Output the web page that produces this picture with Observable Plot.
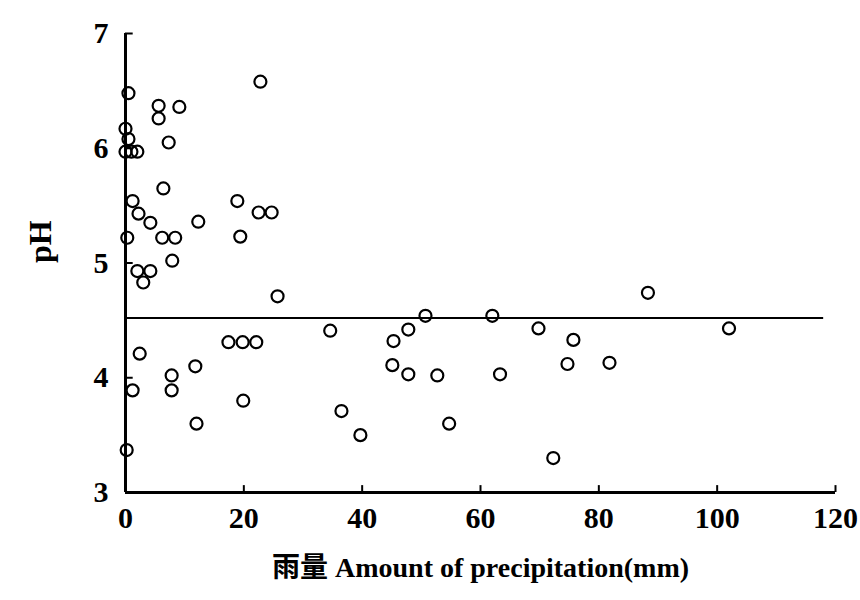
<!DOCTYPE html>
<html><head><meta charset="utf-8">
<script src="https://cdn.jsdelivr.net/npm/d3@7"></script>
<script src="https://cdn.jsdelivr.net/npm/@observablehq/plot@0.6"></script>
<style>body{margin:0;background:#fff;} svg{display:block;}</style>
</head><body><div id="chart"></div>
<script>
const precipitation = [22.8,0.5,5.6,5.6,9.1,0,0.5,7.3,0,1.0,2.0,6.4,1.2,2.2,4.2,6.2,8.4,0.3,18.9,22.5,24.7,12.3,19.4,7.9,2.0,4.2,3.0,25.7,17.4,19.8,22.1,2.4,11.8,7.8,7.8,1.2,19.9,12.0,0.2,34.6,50.7,62.0,47.8,45.3,45.1,47.8,52.7,63.3,69.8,75.7,74.7,36.5,39.7,54.7,72.3,88.3,102.0,81.8];
const pH = [6.58,6.48,6.37,6.26,6.36,6.17,6.08,6.05,5.97,5.97,5.97,5.65,5.54,5.43,5.35,5.22,5.22,5.22,5.54,5.44,5.44,5.36,5.23,5.02,4.93,4.93,4.83,4.71,4.31,4.31,4.31,4.21,4.10,4.02,3.89,3.89,3.80,3.60,3.37,4.41,4.54,4.54,4.42,4.32,4.11,4.03,4.02,4.03,4.43,4.33,4.12,3.71,3.50,3.60,3.30,4.74,4.43,4.13];
const xTicks = [0,20,40,60,80,100,120];
const yTicks = [3,4,5,6,7];
const thresholdPH = [4.52];
const thresholdExtent = [0,118];
const xLabel = "雨量 Amount of precipitation(mm)";
const yLabel = "pH";

const data = precipitation.map((p,i)=>({p, ph: pH[i]}));

const chart = Plot.plot({
  width: 860, height: 600,
  marginLeft: 125, marginRight: 25, marginTop: 33, marginBottom: 108,
  style: {fontFamily: "'Liberation Serif', 'Noto Sans CJK SC', serif", fontSize: "30px", color: "#000", background: "#fff"},
  x: {domain: [0,120]},
  y: {domain: [3,7]},
  marks: [
    Plot.axisX(xTicks, {tickSize: 0, tickPadding: 14, fontSize: 30, fontWeight: "bold", tickFormat: d3.format("d"), label: null}),
    Plot.axisY(yTicks, {tickSize: 0, tickPadding: 17, fontSize: 30, fontWeight: "bold", tickFormat: d3.format("d"), label: null}),
    Plot.text([xLabel], {frameAnchor: "bottom", dy: 84, fontSize: 28, fontWeight: "bold", text: d=>d}),
    Plot.text([yLabel], {frameAnchor: "left", dx: -85, rotate: -90, fontSize: 32, fontWeight: "bold", text: d=>d}),
    Plot.ruleX(xTicks.slice(1), {y1: 3, y2: 3.06, stroke: "#000", strokeWidth: 2}),
    Plot.ruleY(yTicks, {x1: 0, x2: 1.3, stroke: "#000", strokeWidth: 2}),
    Plot.ruleY(thresholdPH, {x1: thresholdExtent[0], x2: thresholdExtent[1], stroke: "#000", strokeWidth: 2}),
    Plot.ruleX([0], {stroke: "#000", strokeWidth: 3}),
    Plot.ruleY([3], {stroke: "#000", strokeWidth: 3}),
    Plot.dot(data, {x: "p", y: "ph", r: 6, stroke: "#000", strokeWidth: 2.2, fill: "none"})
  ]
});
document.getElementById("chart").appendChild(chart);
</script></body></html>
